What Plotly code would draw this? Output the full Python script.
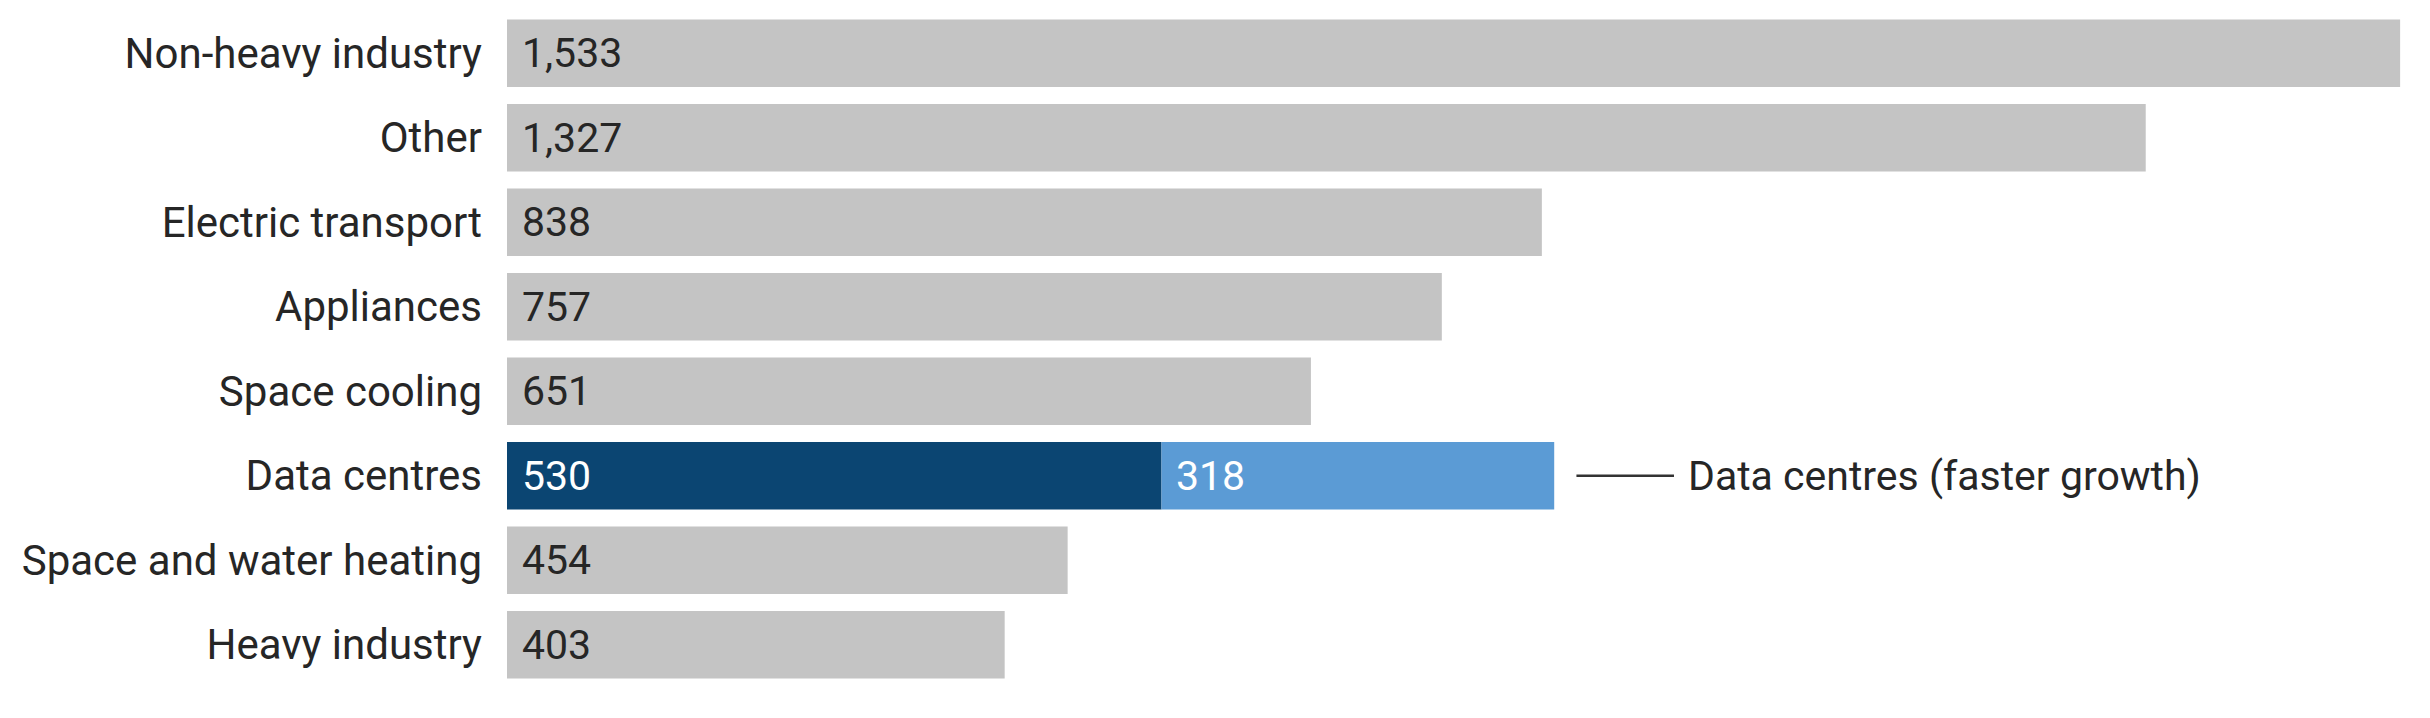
import plotly.graph_objects as go

categories = ["Non-heavy industry", "Other", "Electric transport", "Appliances",
              "Space cooling", "Data centres", "Space and water heating", "Heavy industry"]
values = [1533, 1327, 838, 757, 651, 530, 454, 403]
faster_category = "Data centres"
faster_extra = 318
faster_label = "Data centres (faster growth)"

grey = "#c4c4c4"
dark_blue = "#0b4572"
light_blue = "#5b9bd5"
text_col = "#262626"
FONT = "Roboto"
FS = 41

colors = [dark_blue if c == faster_category else grey for c in categories]

fig = go.Figure()
fig.add_trace(go.Bar(y=categories, x=values, orientation="h",
                     marker=dict(color=colors, line=dict(width=0)),
                     hoverinfo="skip", showlegend=False))
base_val = values[categories.index(faster_category)]
fig.add_trace(go.Bar(y=[faster_category], x=[faster_extra], base=[base_val], orientation="h",
                     marker=dict(color=light_blue, line=dict(width=0)),
                     hoverinfo="skip", showlegend=False))

for c, v in zip(categories, values):
    fig.add_annotation(x=0, y=c, text=f"{v:,}", showarrow=False, xanchor="left",
                       xshift=13, font=dict(family=FONT, size=FS,
                                            color="white" if c == faster_category else text_col))
fig.add_annotation(x=base_val, y=faster_category, text=f"{faster_extra:,}", showarrow=False,
                   xanchor="left", xshift=12, font=dict(family=FONT, size=FS, color="white"))

end_val = base_val + faster_extra
fig.add_shape(type="line", xref="x", yref="y", x0=end_val + 18, x1=end_val + 97,
              y0=faster_category, y1=faster_category, line=dict(color="#333333", width=2.5))
fig.add_annotation(x=end_val + 97, y=faster_category, text=faster_label, showarrow=False,
                   xanchor="left", xshift=12, font=dict(family=FONT, size=FS, color=text_col))

fig.update_layout(
    width=2430, height=718,
    margin=dict(l=499, r=28, t=3, b=39),
    paper_bgcolor="white", plot_bgcolor="white",
    barmode="overlay", bargap=0.2,
    font=dict(family=FONT, size=FS, color=text_col),
    xaxis=dict(range=[0, 1541], visible=False, fixedrange=True),
    yaxis=dict(autorange="reversed", showgrid=False, zeroline=False, showline=False,
               ticks="", ticklabelstandoff=24, automargin=False,
               tickfont=dict(family=FONT, size=42, color=text_col)),
)

fig.write_html("out.html")
